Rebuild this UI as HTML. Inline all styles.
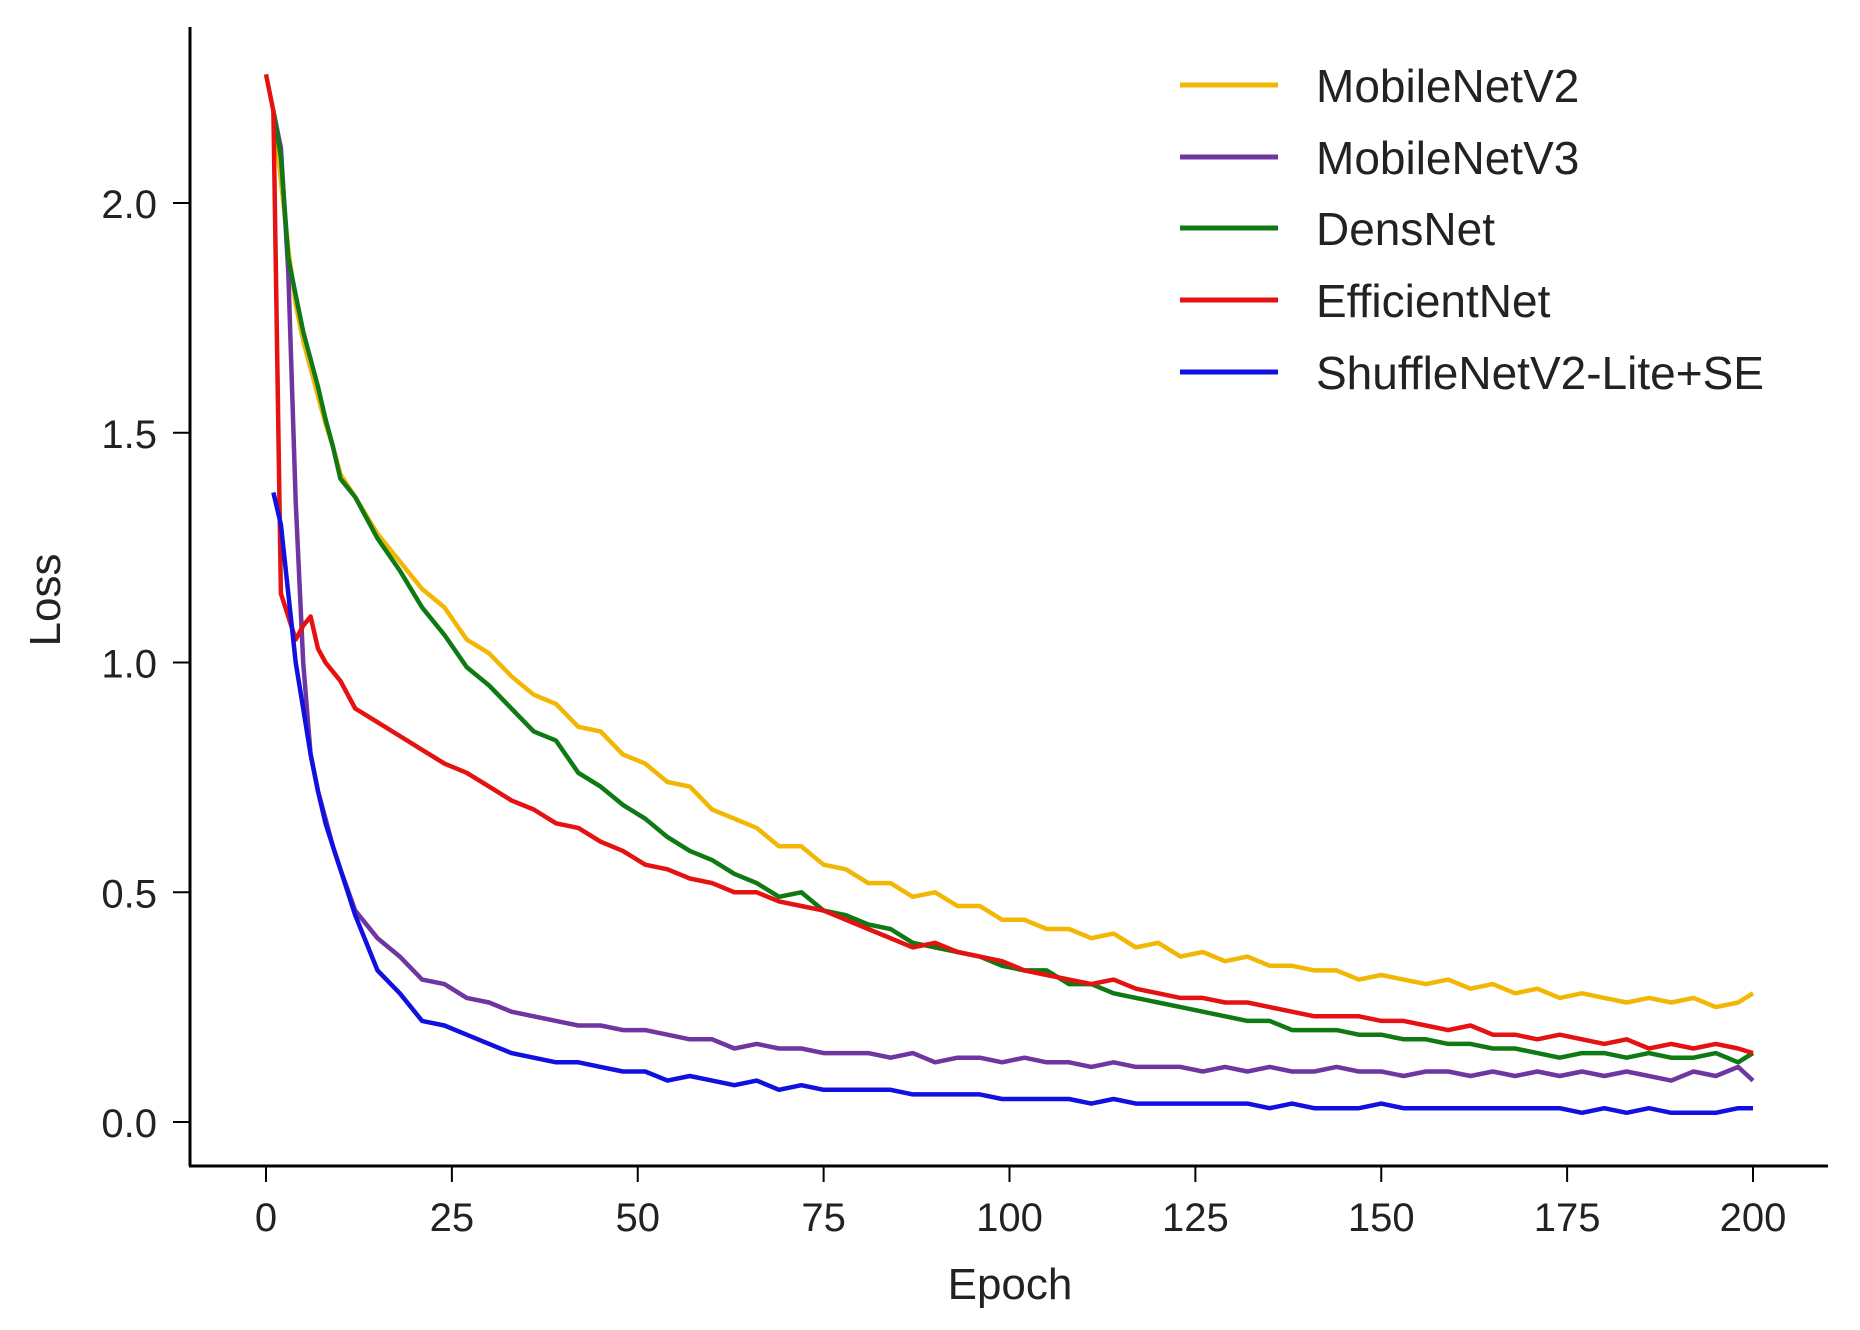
<!DOCTYPE html>
<html><head><meta charset="utf-8"><style>
html,body{margin:0;padding:0;background:#fff;}
svg{display:block;}
text{font-family:"Liberation Sans",sans-serif;fill:#222;}
</style></head><body>
<svg id="chart" width="1860" height="1330" viewBox="0 0 1860 1330" xmlns="http://www.w3.org/2000/svg">
<g id="grid"></g>
<g id="series"></g>
<g id="axes"></g>
<g id="legend"></g>
</svg>
<script>
const epochs = [0,1,2,3,4,5,6,7,8,9,10,12,15,18,21,24,27,30,33,36,39,42,45,48,51,54,57,60,63,66,69,72,75,78,81,84,87,90,93,96,99,102,105,108,111,114,117,120,123,126,129,132,135,138,141,144,147,150,153,156,159,162,165,168,171,174,177,180,183,186,189,192,195,198,200];
const mobileNetV2 = [null,2.2,2.05,1.9,1.78,1.7,1.64,1.58,1.52,1.47,1.41,1.36,1.28,1.22,1.16,1.12,1.05,1.02,0.97,0.93,0.91,0.86,0.85,0.8,0.78,0.74,0.73,0.68,0.66,0.64,0.6,0.6,0.56,0.55,0.52,0.52,0.49,0.5,0.47,0.47,0.44,0.44,0.42,0.42,0.4,0.41,0.38,0.39,0.36,0.37,0.35,0.36,0.34,0.34,0.33,0.33,0.31,0.32,0.31,0.3,0.31,0.29,0.3,0.28,0.29,0.27,0.28,0.27,0.26,0.27,0.26,0.27,0.25,0.26,0.28];
const mobileNetV3 = [null,2.2,2.12,1.85,1.35,1.0,0.8,0.72,0.66,0.6,0.55,0.46,0.4,0.36,0.31,0.3,0.27,0.26,0.24,0.23,0.22,0.21,0.21,0.2,0.2,0.19,0.18,0.18,0.16,0.17,0.16,0.16,0.15,0.15,0.15,0.14,0.15,0.13,0.14,0.14,0.13,0.14,0.13,0.13,0.12,0.13,0.12,0.12,0.12,0.11,0.12,0.11,0.12,0.11,0.11,0.12,0.11,0.11,0.1,0.11,0.11,0.1,0.11,0.1,0.11,0.1,0.11,0.1,0.11,0.1,0.09,0.11,0.1,0.12,0.09];
const densNet = [null,2.2,2.1,1.88,1.8,1.72,1.66,1.6,1.53,1.47,1.4,1.36,1.27,1.2,1.12,1.06,0.99,0.95,0.9,0.85,0.83,0.76,0.73,0.69,0.66,0.62,0.59,0.57,0.54,0.52,0.49,0.5,0.46,0.45,0.43,0.42,0.39,0.38,0.37,0.36,0.34,0.33,0.33,0.3,0.3,0.28,0.27,0.26,0.25,0.24,0.23,0.22,0.22,0.2,0.2,0.2,0.19,0.19,0.18,0.18,0.17,0.17,0.16,0.16,0.15,0.14,0.15,0.15,0.14,0.15,0.14,0.14,0.15,0.13,0.15];
const efficientNet = [2.28,2.2,1.15,1.1,1.05,1.08,1.1,1.03,1.0,0.98,0.96,0.9,0.87,0.84,0.81,0.78,0.76,0.73,0.7,0.68,0.65,0.64,0.61,0.59,0.56,0.55,0.53,0.52,0.5,0.5,0.48,0.47,0.46,0.44,0.42,0.4,0.38,0.39,0.37,0.36,0.35,0.33,0.32,0.31,0.3,0.31,0.29,0.28,0.27,0.27,0.26,0.26,0.25,0.24,0.23,0.23,0.23,0.22,0.22,0.21,0.2,0.21,0.19,0.19,0.18,0.19,0.18,0.17,0.18,0.16,0.17,0.16,0.17,0.16,0.15];
const shuffleNet = [null,1.37,1.3,1.15,1.0,0.9,0.8,0.72,0.65,0.6,0.55,0.45,0.33,0.28,0.22,0.21,0.19,0.17,0.15,0.14,0.13,0.13,0.12,0.11,0.11,0.09,0.1,0.09,0.08,0.09,0.07,0.08,0.07,0.07,0.07,0.07,0.06,0.06,0.06,0.06,0.05,0.05,0.05,0.05,0.04,0.05,0.04,0.04,0.04,0.04,0.04,0.04,0.03,0.04,0.03,0.03,0.03,0.04,0.03,0.03,0.03,0.03,0.03,0.03,0.03,0.03,0.02,0.03,0.02,0.03,0.02,0.02,0.02,0.03,0.03];
const seriesNames = ["MobileNetV2","MobileNetV3","DensNet","EfficientNet","ShuffleNetV2-Lite+SE"];
const xTicks = [0,25,50,75,100,125,150,175,200];
const yTicks = [0.0,0.5,1.0,1.5,2.0];

const NS = "http://www.w3.org/2000/svg";
const colors = ["#f2b705","#6f35a0","#0f7a14","#e51212","#1010e0"];
const allSeries = [mobileNetV2, mobileNetV3, densNet, efficientNet, shuffleNet];
function xs(v){ return 266 + v * (1753 - 266) / 200; }
function ys(v){ return 1122 - v * 459.5; }
function mk(tag, attrs, parent){ const e=document.createElementNS(NS,tag); for(const k in attrs) e.setAttribute(k,attrs[k]); parent.appendChild(e); return e; }

const gS = document.getElementById('series');
allSeries.forEach((arr, i) => {
  let d = "";
  arr.forEach((v, j) => { if (v === null) return; d += (d ? "L" : "M") + xs(epochs[j]).toFixed(1) + "," + ys(v).toFixed(1); });
  const p = mk('path', {d: d, fill: "none", stroke: colors[i], "stroke-width": 4.5, "stroke-linejoin": "round"}, gS);
  
  
});

const gA = document.getElementById('axes');
const ya = mk('line', {x1:190, y1:27, x2:190, y2:1166, stroke:"#000", "stroke-width":3}, gA);


const xa = mk('line', {x1:189, y1:1166, x2:1828, y2:1166, stroke:"#000", "stroke-width":3}, gA);


xTicks.forEach(t => {
  const l = mk('line', {x1:xs(t), y1:1166, x2:xs(t), y2:1182, stroke:"#000", "stroke-width":2}, gA);
  
  
  const tx = mk('text', {x:xs(t), y:1231, "text-anchor":"middle", "font-size":40}, gA);
  tx.textContent = String(t);
  
  
});
yTicks.forEach(t => {
  const l = mk('line', {x1:173, y1:ys(t), x2:190, y2:ys(t), stroke:"#000", "stroke-width":2}, gA);
  
  
  const tx = mk('text', {x:157, y:ys(t)+15, "text-anchor":"end", "font-size":40}, gA);
  tx.textContent = t.toFixed(1);
  
  
});
const xt = mk('text', {x:1010, y:1299, "text-anchor":"middle", "font-size":44}, gA);
xt.textContent = "Epoch";


const yt = mk('text', {x:0, y:0, "text-anchor":"middle", "font-size":44, transform:"translate(60,600) rotate(-90)"}, gA);
yt.textContent = "Loss";



const gL = document.getElementById('legend');
const rowY = [85,157,228,300,372];
seriesNames.forEach((n, i) => {
  const g = mk('g', {}, gL);
  
  
  mk('line', {x1:1180, y1:rowY[i], x2:1278, y2:rowY[i], stroke:colors[i], "stroke-width":5}, g);
  const tx = mk('text', {x:1316, y:rowY[i]+17, "font-size":46}, g);
  tx.textContent = n;
});
</script>
</body></html>
